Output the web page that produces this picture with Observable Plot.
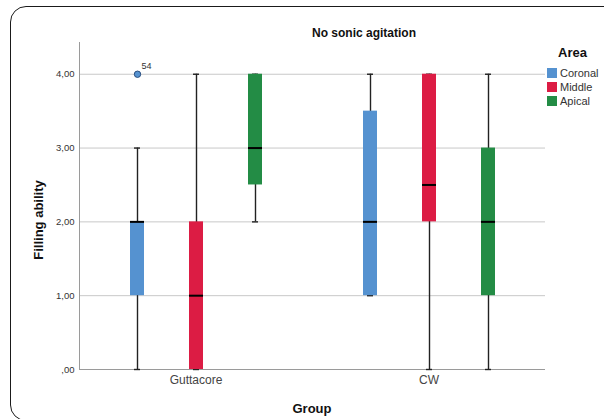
<!DOCTYPE html>
<html>
<head>
<meta charset="utf-8">
<script src="https://cdn.jsdelivr.net/npm/d3@7"></script>
<script src="https://cdn.jsdelivr.net/npm/@observablehq/plot@0.6"></script>
<style>
  html, body { margin: 0; padding: 0; background: #fff; overflow: hidden; }
  #wrap { position: relative; width: 604px; height: 419px; overflow: hidden; font-family: "Liberation Sans", Arial, sans-serif; }
  #chart { position: absolute; left: 0; top: 0; }
  .border { position: absolute; left: 10px; top: 6px; width: 640px; height: 415px; border: 1.6px solid #1a1a1a; border-radius: 16px; box-sizing: border-box; }
  .t { position: absolute; white-space: nowrap; color: #111; }
  .title { left: 312px; top: 26px; font-size: 12px; font-weight: bold; }
  .ylab { left: 38px; top: 220px; font-size: 13px; font-weight: bold; transform: translate(-50%, -50%) rotate(-90deg); }
  .xlab { left: 312px; top: 408px; font-size: 13px; font-weight: bold; transform: translate(-50%, -50%); }
  .legtitle { left: 558px; top: 45px; font-size: 13px; font-weight: bold; }
  .legitem { left: 547px; font-size: 11px; color: #333; display: flex; align-items: center; }
  .legitem span.sw { display: inline-block; width: 10px; height: 10px; margin-right: 3px; }
</style>
</head>
<body>
<div id="wrap">
  <div id="chart"></div>
  <div class="border"></div>
  <div class="t title">No sonic agitation</div>
  <div class="t ylab">Filling ability</div>
  <div class="t xlab">Group</div>
  <div class="t legtitle">Area</div>
  <div id="legend"></div>
</div>
<script>
// ---- data ----
const groups = ["Guttacore", "CW"];
const areas = ["Coronal", "Middle", "Apical"];
const areaColors = ["#5592d0", "#dc1c44", "#238c45"];
// one entry per group x area (Guttacore: Coronal, Middle, Apical; CW: Coronal, Middle, Apical)
const boxGroup = ["Guttacore", "Guttacore", "Guttacore", "CW", "CW", "CW"];
const boxArea = ["Coronal", "Middle", "Apical", "Coronal", "Middle", "Apical"];
const whiskerLow = [0, 0, 2, 1, 0, 0];
const q1 = [1, 0, 2.5, 1, 2, 1];
const median = [2, 1, 3, 2, 2.5, 2];
const q3 = [2, 2, 4, 3.5, 4, 3];
const whiskerHigh = [3, 4, 4, 4, 4, 4];
// outliers
const outGroup = ["Guttacore"];
const outArea = ["Coronal"];
const outValue = [4];
const outLabel = ["54"];
// y axis ticks
const yTicks = [0, 1, 2, 3, 4];
const yTickLabels = [",00", "1,00", "2,00", "3,00", "4,00"];
const yMax = 4.43;

const boxes = boxGroup.map((g, i) => ({
  group: g, area: boxArea[i], lo: whiskerLow[i], q1: q1[i], med: median[i], q3: q3[i], hi: whiskerHigh[i]
}));
const caps = boxes.flatMap(d => [{group: d.group, area: d.area, v: d.lo}, {group: d.group, area: d.area, v: d.hi}]);
const outliers = outGroup.map((g, i) => ({group: g, area: outArea[i], value: outValue[i], label: outLabel[i]}));

const chart = Plot.plot({
  width: 604,
  height: 419,
  marginLeft: 78,
  marginRight: 59,
  marginTop: 42,
  marginBottom: 50,
  style: {fontFamily: "'Liberation Sans', Arial, sans-serif", background: "transparent", overflow: "visible"},
  fx: {domain: groups, paddingInner: 0, paddingOuter: 0, label: null, axis: null},
  x: {domain: areas, paddingInner: 0.7667, paddingOuter: 0.829, axis: null},
  y: {domain: [0, yMax], axis: null},
  color: {domain: areas, range: areaColors},
  marks: [
    Plot.gridY({ticks: yTicks.slice(1), stroke: "#c8c8c8", strokeOpacity: 1, strokeWidth: 1}),
    Plot.ruleY([0], {stroke: "#9a9a9a", strokeWidth: 1}),
    Plot.frame({anchor: "left", facetAnchor: "left", stroke: "#9a9a9a", strokeWidth: 1}),
    Plot.axisY({ticks: yTicks, tickFormat: d => yTickLabels[yTicks.indexOf(d)], tickSize: 0, tickPadding: 5, fontSize: 9.5, fill: "#333", label: null}),
    Plot.axisFx({domain: groups, anchor: "bottom", tickSize: 0, tickPadding: 6, fontSize: 12, fill: "#444", label: null}),
    Plot.ruleX(boxes, {fx: "group", x: "area", y1: "lo", y2: "hi", stroke: "#222", strokeWidth: 1.4}),
    Plot.tickY(caps, {fx: "group", x: "area", y: "v", stroke: "#222", strokeWidth: 1.4, insetLeft: 4, insetRight: 4}),
    Plot.barY(boxes, {fx: "group", x: "area", y1: "q1", y2: "q3", fill: "area"}),
    Plot.tickY(boxes, {fx: "group", x: "area", y: "med", stroke: "#000", strokeWidth: 2}),
    Plot.dot(outliers, {fx: "group", x: "area", y: "value", r: 3.2, fill: d => d.area, stroke: "#2a4f80", strokeWidth: 1}),
    Plot.text(outliers, {fx: "group", x: "area", y: "value", text: "label", dx: 9, dy: -8, fontSize: 9, fill: "#333"})
  ]
});
document.getElementById("chart").appendChild(chart);

// legend
const legend = document.getElementById("legend");
areas.forEach((a, i) => {
  const div = document.createElement("div");
  div.className = "t legitem";
  div.style.top = (67 + i * 14) + "px";
  div.innerHTML = `<span class="sw" style="background:${areaColors[i]}"></span>${a}`;
  legend.appendChild(div);
});
</script>
</body>
</html>
